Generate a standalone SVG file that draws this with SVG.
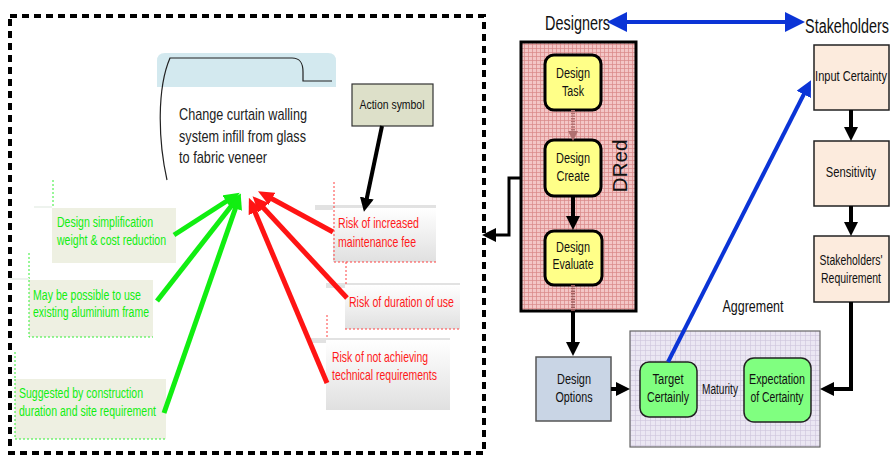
<svg xmlns="http://www.w3.org/2000/svg" width="893" height="457" viewBox="0 0 893 457">
  <style>
    text { font-family: "Liberation Sans", Arial, sans-serif; }
    .lbl { font-size: 14px; fill: #111; text-anchor: middle; }
    .green { font-size: 14px; fill: #11ee11; }
    .red { font-size: 14.5px; fill: #ff1a1a; }
    .ybox { fill: #ffff88; stroke: #000; stroke-width: 3; }
    .sbox { fill: #fcebdd; stroke: #222; stroke-width: 1.5; }
    .gbox { fill: #80ff80; stroke: #222; stroke-width: 1.5; }
    .gfill { fill: #eef0e2; }
    .gdot { stroke: #33ee33; stroke-width: 1; stroke-dasharray: 2 2; fill: none; }
    .rdot { stroke: #ff4040; stroke-width: 1; stroke-dasharray: 2 2; fill: none; }
    .bar { fill: #e2e2e2; }
    .garr { stroke: #11ee11; stroke-width: 5; fill: none; marker-end: url(#headGreen); }
    .rarr { stroke: #ff1414; stroke-width: 5; fill: none; marker-end: url(#headRed); }
    .karr { stroke: #000; stroke-width: 4; fill: none; marker-end: url(#headBlack); }
  </style>
  <defs>
    <marker id="headGreen" viewBox="0 0 16 14" refX="8" refY="7" markerWidth="16" markerHeight="14" markerUnits="userSpaceOnUse" orient="auto">
      <path d="M0,0 L16,7 L0,14 z" fill="#11ee11"/>
    </marker>
    <marker id="headRed" viewBox="0 0 16 14" refX="8" refY="7" markerWidth="16" markerHeight="14" markerUnits="userSpaceOnUse" orient="auto">
      <path d="M0,0 L16,7 L0,14 z" fill="#ff1414"/>
    </marker>
    <marker id="headBlack" viewBox="0 0 14 14" refX="4" refY="7" markerWidth="14" markerHeight="14" markerUnits="userSpaceOnUse" orient="auto">
      <path d="M0,0 L14,7 L0,14 z" fill="#000"/>
    </marker>
    <marker id="headBrown" viewBox="0 0 10 10" refX="3" refY="5" markerWidth="10" markerHeight="10" markerUnits="userSpaceOnUse" orient="auto">
      <path d="M0,0 L10,5 L0,10 z" fill="#b07070"/>
    </marker>
    <marker id="headBlue" viewBox="0 0 20 20" refX="6" refY="10" markerWidth="20" markerHeight="20" markerUnits="userSpaceOnUse" orient="auto-start-reverse">
      <path d="M0,0 L20,10 L0,20 z" fill="#0b34d6"/>
    </marker>
    <marker id="headBlueSmall" viewBox="0 0 16 16" refX="5" refY="8" markerWidth="16" markerHeight="16" markerUnits="userSpaceOnUse" orient="auto">
      <path d="M0,0 L16,8 L0,16 z" fill="#0b34d6"/>
    </marker>
    <pattern id="pinkGrid" width="4" height="4" patternUnits="userSpaceOnUse">
      <rect width="4" height="4" fill="#f3c6c6"/>
      <path d="M0,0.5 H4 M0.5,0 V4" stroke="#d98686" stroke-width="0.7"/>
    </pattern>
    <pattern id="lilacGrid" width="5" height="5" patternUnits="userSpaceOnUse">
      <rect width="5" height="5" fill="#ebe7f3"/>
      <path d="M0,0.5 H5 M0.5,0 V5" stroke="#cdc5dc" stroke-width="0.6"/>
    </pattern>
    <linearGradient id="greyFade" x1="0" y1="0" x2="0" y2="1">
      <stop offset="0" stop-color="#ffffff"/>
      <stop offset="1" stop-color="#e0e0e0"/>
    </linearGradient>
  </defs>

  <!-- dashed frame around the action panel -->
  <rect x="10" y="16" width="474" height="437" fill="none" stroke="#000" stroke-width="4" stroke-dasharray="7 5"/>

  <!-- action statement -->
  <g id="action-statement">
    <path d="M157,87 V61 Q157,53 165,53 H328 Q336,53 336,61 V87 z" fill="#d3e9ef"/>
    <path d="M167,180 C158,140 157,88 170,58 L292,58 C301,58 303,64 303,72 L303,81 L332,81" fill="none" stroke="#222" stroke-width="1.2"/>
    <text x="179" y="120" font-size="17" fill="#222" textLength="128" lengthAdjust="spacingAndGlyphs">Change curtain walling</text>
    <text x="179" y="142" font-size="17" fill="#222" textLength="127" lengthAdjust="spacingAndGlyphs">system infill from glass</text>
    <text x="179" y="163" font-size="17" fill="#222" textLength="88" lengthAdjust="spacingAndGlyphs">to fabric veneer</text>
  </g>

  <g id="action-symbol">
    <rect x="352" y="84" width="81" height="42" fill="#dde0c9" stroke="#333" stroke-width="1.2"/>
    <text x="392" y="109" font-size="13.5" fill="#111" text-anchor="middle" textLength="65" lengthAdjust="spacingAndGlyphs">Action symbol</text>
  </g>

  <!-- supporting reasons (green) -->
  <g id="reason-simplification">
    <path d="M53,180 V207" class="gdot"/>
    <rect x="34" y="206" width="18" height="2" fill="#eef3ee"/>
    <rect x="52" y="208" width="124" height="55" class="gfill"/>
    <text x="57" y="227" class="green" textLength="96" lengthAdjust="spacingAndGlyphs">Design simplification</text>
    <text x="57" y="245" class="green" textLength="109" lengthAdjust="spacingAndGlyphs">weight &amp; cost reduction</text>
  </g>
  <g id="reason-frame">
    <path d="M29,253 V280" class="gdot"/>
    <rect x="10" y="278" width="19" height="2" fill="#eef3ee"/>
    <rect x="29" y="280" width="124" height="57" class="gfill"/>
    <path d="M29,280 V337 H153" class="gdot"/>
    <text x="33" y="300" class="green" textLength="108" lengthAdjust="spacingAndGlyphs">May be possible to use</text>
    <text x="33" y="317" class="green" textLength="116" lengthAdjust="spacingAndGlyphs">existing aluminium frame</text>
  </g>
  <g id="reason-programme">
    <path d="M15,352 V379" class="gdot"/>
    <rect x="15" y="379" width="151" height="60" class="gfill"/>
    <path d="M15,379 V439 H166" class="gdot"/>
    <text x="19" y="398" class="green" textLength="124" lengthAdjust="spacingAndGlyphs">Suggested by construction</text>
    <text x="19" y="416" class="green" textLength="137" lengthAdjust="spacingAndGlyphs">duration and site requirement</text>
  </g>

  <!-- risks (red) -->
  <g id="risk-maintenance">
    <rect x="315" y="205" width="121" height="5" class="bar"/>
    <rect x="333" y="208" width="103" height="54" fill="url(#greyFade)"/>
    <path d="M334,182 V262 H436" class="rdot"/>
    <text x="338" y="228" class="red" textLength="81" lengthAdjust="spacingAndGlyphs">Risk of increased</text>
    <text x="338" y="247" class="red" textLength="78" lengthAdjust="spacingAndGlyphs">maintenance fee</text>
  </g>
  <g id="risk-duration">
    <rect x="326" y="283" width="134" height="5" class="bar"/>
    <rect x="345" y="285" width="115" height="44" fill="url(#greyFade)"/>
    <path d="M346,262 V284" class="rdot"/>
    <path d="M345,329 H460" class="rdot"/>
    <text x="349" y="307" class="red" textLength="105" lengthAdjust="spacingAndGlyphs">Risk of duration of use</text>
  </g>
  <g id="risk-technical">
    <rect x="310" y="338" width="140" height="5" class="bar"/>
    <rect x="326" y="340" width="124" height="70" fill="url(#greyFade)"/>
    <path d="M327,315 V339" class="rdot"/>
    <text x="332" y="362" class="red" textLength="96" lengthAdjust="spacingAndGlyphs">Risk of not achieving</text>
    <text x="332" y="380" class="red" textLength="105" lengthAdjust="spacingAndGlyphs">technical requirements</text>
  </g>

  <!-- design process side -->
  <g id="designers">
    <text x="545" y="30" font-size="21" fill="#111" textLength="65" lengthAdjust="spacingAndGlyphs">Designers</text>
  </g>
  <g id="stakeholders">
    <text transform="translate(847,33) scale(0.685,1)" font-size="21" fill="#111" text-anchor="middle">Stakeholders</text>
  </g>

  <g id="dred">
    <rect x="521" y="42" width="115" height="269" fill="url(#pinkGrid)" stroke="#000" stroke-width="3"/>
    <text transform="translate(627,166) rotate(-90)" x="0" y="0" font-size="21" fill="#111" text-anchor="middle" textLength="53" lengthAdjust="spacingAndGlyphs">DRed</text>
  </g>
  <g id="design-task">
    <rect x="545" y="55" width="56" height="55" rx="9" class="ybox"/>
    <text x="573" y="78" class="lbl" textLength="34" lengthAdjust="spacingAndGlyphs">Design</text>
    <text x="573" y="96" class="lbl" textLength="22" lengthAdjust="spacingAndGlyphs">Task</text>
  </g>
  <g id="design-create">
    <rect x="545" y="140" width="56" height="56" rx="9" class="ybox"/>
    <text x="573" y="163" class="lbl" textLength="34" lengthAdjust="spacingAndGlyphs">Design</text>
    <text x="573" y="181" class="lbl" textLength="33" lengthAdjust="spacingAndGlyphs">Create</text>
  </g>
  <g id="design-evaluate">
    <rect x="545" y="231" width="57" height="54" rx="9" class="ybox"/>
    <text x="573" y="252" class="lbl" textLength="34" lengthAdjust="spacingAndGlyphs">Design</text>
    <text x="573" y="269" class="lbl" textLength="41" lengthAdjust="spacingAndGlyphs">Evaluate</text>
  </g>
  <g id="design-options">
    <rect x="536" y="357" width="75" height="64" fill="#c9d5e5" stroke="#555" stroke-width="1.5"/>
    <text x="574" y="384" class="lbl" textLength="34" lengthAdjust="spacingAndGlyphs">Design</text>
    <text x="574" y="402" class="lbl" textLength="37" lengthAdjust="spacingAndGlyphs">Options</text>
  </g>

  <g id="agreement">
    <text x="753" y="312" font-size="17" fill="#111" text-anchor="middle" textLength="61" lengthAdjust="spacingAndGlyphs">Aggrement</text>
    <rect x="630" y="331" width="190" height="116" fill="url(#lilacGrid)" stroke="#666" stroke-width="1.2"/>
    <text x="720" y="394" class="lbl" textLength="36" lengthAdjust="spacingAndGlyphs">Maturity</text>
  </g>
  <g id="target-certainly">
    <rect x="640" y="362" width="57" height="55" rx="9" class="gbox"/>
    <text x="668" y="384" class="lbl" textLength="31" lengthAdjust="spacingAndGlyphs">Target</text>
    <text x="668" y="402" class="lbl" textLength="42" lengthAdjust="spacingAndGlyphs">Certainly</text>
  </g>
  <g id="expectation">
    <rect x="744" y="358" width="67" height="64" rx="10" class="gbox"/>
    <text x="777" y="384" class="lbl" textLength="56" lengthAdjust="spacingAndGlyphs">Expectation</text>
    <text x="777" y="402" class="lbl" textLength="53" lengthAdjust="spacingAndGlyphs">of Certainty</text>
  </g>

  <g id="input-certainty">
    <rect x="814" y="45" width="75" height="65" class="sbox"/>
    <text transform="translate(851,81) scale(0.79,1)" class="lbl" font-size="13">Input Certainty</text>
  </g>
  <g id="sensitivity">
    <rect x="814" y="141" width="75" height="65" class="sbox"/>
    <text transform="translate(851,177) scale(0.8,1)" class="lbl" font-size="13">Sensitivity</text>
  </g>
  <g id="stakeholders-requirement">
    <rect x="814" y="236" width="75" height="66" class="sbox"/>
    <text transform="translate(851,265) scale(0.745,1)" class="lbl">Stakeholders'</text>
    <text transform="translate(851,283) scale(0.75,1)" class="lbl">Requirement</text>
  </g>

  <!-- connectors -->
  <g id="connectors">
    <!-- reasons for the action -->
    <path d="M174,235 L233,197" class="garr"/>
    <path d="M157,301 L236,200" class="garr"/>
    <path d="M164,413 L238,201" class="garr"/>
    <!-- risks against the action -->
    <path d="M333,232 L265,195" class="rarr"/>
    <path d="M347,298 L258,202" class="rarr"/>
    <path d="M327,383 L252,205" class="rarr"/>
    <!-- symbol callout -->
    <path d="M382,126 L366,202" class="karr"/>

    <!-- DRed process -->
    <path d="M573,110 V134" stroke="#b07070" stroke-width="4" stroke-dasharray="1.5 1.2" fill="none" marker-end="url(#headBrown)"/>
    <path d="M573,196 V220" class="karr"/>
    <path d="M573,285 V311" stroke="#a06060" stroke-width="4" stroke-dasharray="1.5 1.2" fill="none"/>
    <path d="M573,311 V346" class="karr"/>
    <path d="M611,389 H620" class="karr"/>
    <path d="M521,178 H509 V235 H492" stroke="#000" stroke-width="3" fill="none" marker-end="url(#headBlack)"/>

    <!-- stakeholder chain -->
    <path d="M851,110 V131" class="karr"/>
    <path d="M851,206 V226" class="karr"/>
    <path d="M851,302 V389 H830" class="karr"/>

    <!-- designers / stakeholders link -->
    <path d="M621,22 H791" stroke="#0b34d6" stroke-width="4" fill="none" marker-start="url(#headBlue)" marker-end="url(#headBlue)"/>
    <path d="M668,362 L806,90" stroke="#0b34d6" stroke-width="4" fill="none" marker-end="url(#headBlueSmall)"/>
  </g>
</svg>
